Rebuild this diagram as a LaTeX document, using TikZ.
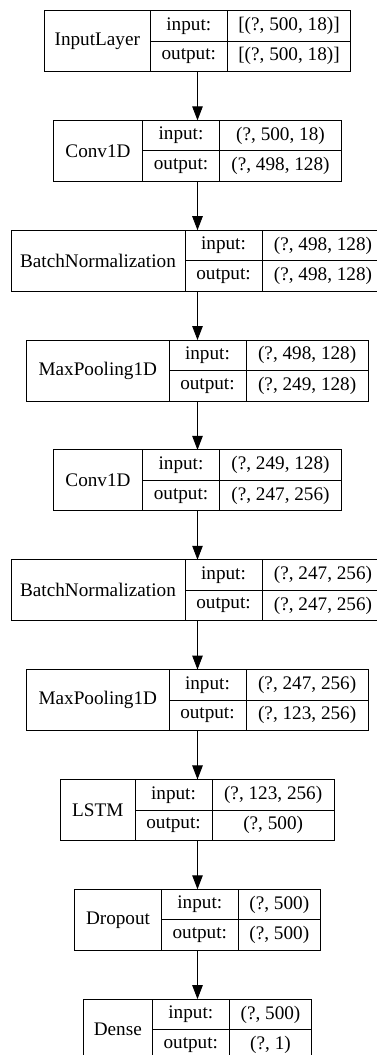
\documentclass[tikz,border=0pt]{standalone}
\usepackage{fontspec}
\setmainfont{Liberation Serif}
\usetikzlibrary{arrows.meta}
\tikzset{
  lay_txt/.style = {inner sep=0pt, outer sep=0pt, align=center,
    font=\fontsize{19.2}{22}\selectfont},
  lay_box/.style = {lay_txt, rectangle, draw=none, minimum height=61pt},% whole layer
  lay_name/.style = {lay_txt, rectangle, draw, line width=0.9pt,
    minimum height=61pt},% cell with the layer name
  lay_cell/.style = {lay_txt, rectangle, draw, line width=0.9pt,
    minimum height=30.5pt, minimum width=77pt},% input / output cells
  arr/.style = {-{Triangle[length=14pt,width=10.5pt]}, line width=0.9pt},
}
% id, row, total width, name width, value width, name, input shape, output shape
\newcommand{\klayer}[8]{%
  \node[lay_box, minimum width=#3] (#1) at (197.5,{41+109.85*#2}) {};
  \node[lay_name, minimum width=#4, anchor=west] (#1_name) at (#1.west) {#6};
  \node[lay_cell, anchor=north west] (#1_in) at (#1_name.north east) {input:};
  \node[lay_cell, anchor=north west] (#1_out) at (#1_in.south west) {output:};
  \node[lay_cell, minimum width=#5, anchor=north west] (#1_inv) at (#1_in.north east) {#7};
  \node[lay_cell, minimum width=#5, anchor=north west] (#1_outv) at (#1_out.north east) {#8};
}
\begin{document}
\begin{tikzpicture}[x=1pt, y=-1pt]
\useasboundingbox (0,0) rectangle (376,1055);
\klayer{input}{0}{306.4pt}{106pt}{123.4pt}{InputLayer}{[(?, 500, 18)]}{[(?, 500, 18)]}
\klayer{conv_a}{1}{288pt}{89pt}{122pt}{Conv1D}{(?, 500, 18)}{(?, 498, 128)}
\klayer{bn_a}{2}{373pt}{174pt}{122pt}{BatchNormalization}{(?, 498, 128)}{(?, 498, 128)}
\klayer{pool_a}{3}{341.7pt}{142.3pt}{122.4pt}{MaxPooling1D}{(?, 498, 128)}{(?, 249, 128)}
\klayer{conv_b}{4}{288pt}{89pt}{122pt}{Conv1D}{(?, 249, 128)}{(?, 247, 256)}
\klayer{bn_b}{5}{373pt}{174pt}{122pt}{BatchNormalization}{(?, 247, 256)}{(?, 247, 256)}
\klayer{pool_b}{6}{341.7pt}{142.3pt}{122.4pt}{MaxPooling1D}{(?, 247, 256)}{(?, 123, 256)}
\klayer{lstm}{7}{273.6pt}{74.3pt}{122.3pt}{LSTM}{(?, 123, 256)}{(?, 500)}
\klayer{drop}{8}{245.6pt}{86.6pt}{82pt}{Dropout}{(?, 500)}{(?, 500)}
\klayer{dense}{9}{228.4pt}{69pt}{82.4pt}{Dense}{(?, 500)}{(?, 1)}
% connections
\foreach \a/\b in {input/conv_a, conv_a/bn_a, bn_a/pool_a, pool_a/conv_b,
  conv_b/bn_b, bn_b/pool_b, pool_b/lstm, lstm/drop, drop/dense}
  \draw[arr] (\a) -- (\b);
\end{tikzpicture}
\end{document}
